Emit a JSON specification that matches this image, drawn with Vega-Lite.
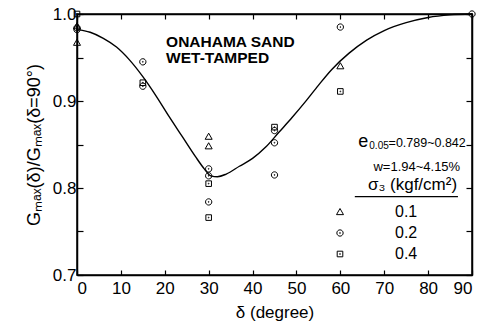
{
  "$schema": "https://vega.github.io/schema/vega-lite/v6.json",
  "width": 395,
  "height": 261,
  "autosize": "none",
  "padding": {"left": 77, "top": 14, "right": 12, "bottom": 50},
  "config": {
    "font": "Liberation Sans",
    "view": {"stroke": "black", "strokeWidth": 1.5},
    "axis": {"domainColor": "black", "domainWidth": 1.5, "tickColor": "black", "tickWidth": 1.2, "labelColor": "black", "titleColor": "black", "grid": false, "labelFont": "Liberation Sans", "titleFont": "Liberation Sans", "titleFontWeight": "normal"}
  },
  "datasets": {
    "curve": [
      {"delta": 0, "ratio": 0.982}, {"delta": 3, "ratio": 0.979}, {"delta": 6, "ratio": 0.972},
      {"delta": 9, "ratio": 0.962}, {"delta": 12, "ratio": 0.947}, {"delta": 15, "ratio": 0.928},
      {"delta": 18, "ratio": 0.906}, {"delta": 21, "ratio": 0.882}, {"delta": 24, "ratio": 0.859},
      {"delta": 27, "ratio": 0.836}, {"delta": 29, "ratio": 0.822}, {"delta": 30.5, "ratio": 0.814},
      {"delta": 32, "ratio": 0.813}, {"delta": 34, "ratio": 0.816}, {"delta": 37, "ratio": 0.825},
      {"delta": 40, "ratio": 0.834}, {"delta": 43, "ratio": 0.847}, {"delta": 46, "ratio": 0.864},
      {"delta": 49, "ratio": 0.881}, {"delta": 52, "ratio": 0.899}, {"delta": 55, "ratio": 0.918},
      {"delta": 58, "ratio": 0.936}, {"delta": 62, "ratio": 0.955}, {"delta": 66, "ratio": 0.970},
      {"delta": 70, "ratio": 0.981}, {"delta": 75, "ratio": 0.990}, {"delta": 80, "ratio": 0.996},
      {"delta": 85, "ratio": 0.999}, {"delta": 90, "ratio": 1.0}
    ],
    "points": [
      {"delta": 0, "ratio": 0.986, "sigma": "0.1"},
      {"delta": 0, "ratio": 0.967, "sigma": "0.1"},
      {"delta": 30, "ratio": 0.859, "sigma": "0.1"},
      {"delta": 30, "ratio": 0.848, "sigma": "0.1"},
      {"delta": 60, "ratio": 0.940, "sigma": "0.1"},
      {"delta": 0, "ratio": 0.982, "sigma": "0.2"},
      {"delta": 0, "ratio": 0.984, "sigma": "0.2"},
      {"delta": 15, "ratio": 0.945, "sigma": "0.2"},
      {"delta": 15, "ratio": 0.917, "sigma": "0.2"},
      {"delta": 30, "ratio": 0.822, "sigma": "0.2"},
      {"delta": 30, "ratio": 0.814, "sigma": "0.2"},
      {"delta": 30, "ratio": 0.784, "sigma": "0.2"},
      {"delta": 45, "ratio": 0.866, "sigma": "0.2"},
      {"delta": 45, "ratio": 0.852, "sigma": "0.2"},
      {"delta": 45, "ratio": 0.815, "sigma": "0.2"},
      {"delta": 60, "ratio": 0.985, "sigma": "0.2"},
      {"delta": 90, "ratio": 1.0, "sigma": "0.2"},
      {"delta": 0, "ratio": 1.0, "sigma": "0.4"},
      {"delta": 15, "ratio": 0.921, "sigma": "0.4"},
      {"delta": 30, "ratio": 0.805, "sigma": "0.4"},
      {"delta": 30, "ratio": 0.766, "sigma": "0.4"},
      {"delta": 45, "ratio": 0.870, "sigma": "0.4"},
      {"delta": 60, "ratio": 0.911, "sigma": "0.4"}
    ]
  },
  "layer": [
    {
      "data": {"name": "curve"},
      "mark": {"type": "line", "interpolate": "monotone", "color": "black", "strokeWidth": 1.4},
      "encoding": {
        "x": {"field": "delta", "type": "quantitative", "scale": {"domain": [0, 90], "nice": false},
          "axis": {"orient": "bottom", "values": [0, 10, 20, 30, 40, 50, 60, 70, 80, 90], "tickSize": -5, "labelPadding": 10, "labelFontSize": 17, "title": "δ (degree)", "titleFontSize": 17, "titlePadding": 8}},
        "y": {"field": "ratio", "type": "quantitative", "scale": {"domain": [0.7, 1.0], "nice": false, "zero": false},
          "axis": {"orient": "left", "values": [0.7, 0.75, 0.8, 0.85, 0.9, 0.95, 1.0], "tickSize": -6, "labelPadding": 7, "labelFontSize": 17,
            "labelExpr": "round(datum.value*100) % 10 == 0 ? format(datum.value, '.1f') : ''",
            "title": "Gₘₐₓ(δ)/Gₘₐₓ(δ=90°)", "titleFontSize": 18, "titlePadding": 9}}
      }
    },
    {
      "data": {"name": "points"},
      "mark": {"type": "point", "filled": false, "stroke": "black", "strokeWidth": 1, "size": 49, "opacity": 1},
      "encoding": {
        "x": {"field": "delta", "type": "quantitative", "axis": {"orient": "top", "values": [0, 10, 20, 30, 40, 50, 60, 70, 80, 90], "tickSize": -5, "labels": false, "title": null}},
        "y": {"field": "ratio", "type": "quantitative", "axis": {"orient": "right", "values": [0.7, 0.75, 0.8, 0.85, 0.9, 0.95, 1.0], "tickSize": -6, "labels": false, "title": null}},
        "shape": {"field": "sigma", "type": "nominal",
          "scale": {"domain": ["0.1", "0.2", "0.4"], "range": [
            "M0,-1L1,0.75L-1,0.75Z",
            "M-0.9,0A0.9,0.9 0 1,0 0.9,0A0.9,0.9 0 1,0 -0.9,0Z M-0.12,0A0.12,0.12 0 1,0 0.12,0A0.12,0.12 0 1,0 -0.12,0Z",
            "M-0.8,-0.8H0.8V0.8H-0.8Z M-0.12,0A0.12,0.12 0 1,0 0.12,0A0.12,0.12 0 1,0 -0.12,0Z"
          ]},
          "legend": {"orient": "none", "legendX": 255, "legendY": 190, "title": null, "padding": 0, "labelFontSize": 16, "labelColor": "black", "labelOffset": 47, "rowPadding": 5, "symbolStrokeColor": "black", "symbolStrokeWidth": 1, "symbolSize": 49}
        }
      }
    },
    {
      "data": {"values": [{}]},
      "mark": {"type": "text", "align": "left", "baseline": "alphabetic", "fontSize": 15.5, "fontWeight": "bold", "text": "ONAHAMA SAND", "color": "black"},
      "encoding": {"x": {"datum": 20.3, "axis": null}, "y": {"datum": 0.962, "axis": null}}
    },
    {
      "data": {"values": [{}]},
      "mark": {"type": "text", "align": "left", "baseline": "alphabetic", "fontSize": 15.5, "fontWeight": "bold", "text": "WET-TAMPED", "color": "black"},
      "encoding": {"x": {"datum": 20.3, "axis": null}, "y": {"datum": 0.9437, "axis": null}}
    },
    {
      "data": {"values": [{}]},
      "mark": {"type": "text", "align": "left", "baseline": "alphabetic", "fontSize": 18, "text": "e", "color": "black"},
      "encoding": {"x": {"datum": 64.1, "axis": null}, "y": {"datum": 0.8477, "axis": null}}
    },
    {
      "data": {"values": [{}]},
      "mark": {"type": "text", "align": "left", "baseline": "alphabetic", "fontSize": 10, "text": "0.05", "color": "black"},
      "encoding": {"x": {"datum": 66.6, "axis": null}, "y": {"datum": 0.8443, "axis": null}}
    },
    {
      "data": {"values": [{}]},
      "mark": {"type": "text", "align": "left", "baseline": "alphabetic", "fontSize": 12.5, "text": "=0.789~0.842", "color": "black"},
      "encoding": {"x": {"datum": 71.0, "axis": null}, "y": {"datum": 0.8477, "axis": null}}
    },
    {
      "data": {"values": [{}]},
      "mark": {"type": "text", "align": "right", "baseline": "alphabetic", "fontSize": 13, "text": "w=1.94~4.15%", "color": "black"},
      "encoding": {"x": {"datum": 87.3, "axis": null}, "y": {"datum": 0.8195, "axis": null}}
    },
    {
      "data": {"values": [{}]},
      "mark": {"type": "text", "align": "right", "baseline": "alphabetic", "fontSize": 17, "text": "σ₃ (kgf/cm²)", "color": "black"},
      "encoding": {"x": {"datum": 86.6, "axis": null}, "y": {"datum": 0.7977, "axis": null}}
    },
    {
      "data": {"values": [{}]},
      "mark": {"type": "rule", "color": "black", "strokeWidth": 1.3},
      "encoding": {"x": {"datum": 63.3, "axis": null}, "x2": {"datum": 86.8}, "y": {"datum": 0.79, "axis": null}}
    }
  ]
}
